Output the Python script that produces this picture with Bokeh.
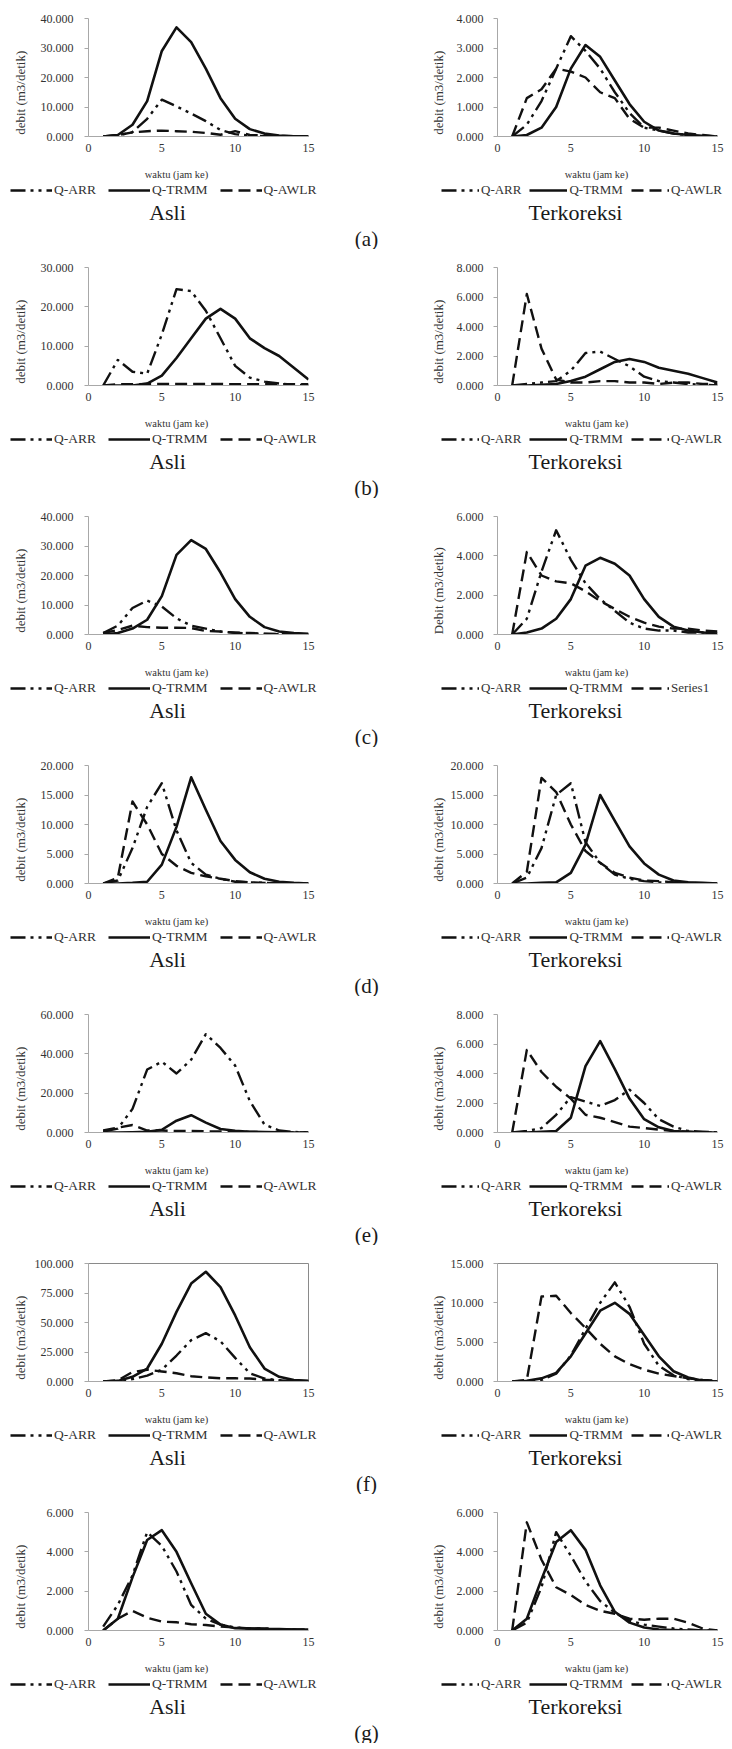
import math
from bokeh.plotting import figure
from bokeh.models import (Range1d, FixedTicker, PrintfTickFormatter, Legend, LegendItem,
                          Label)
from bokeh.layouts import column, row
from bokeh.embed import file_html
from bokeh.resources import INLINE

# ---------------- data ----------------
hours = list(range(1, 16))
x_ticks = [0, 5, 10, 15]
series_names = ["Q-ARR", "Q-TRMM", "Q-AWLR"]
row_tags = ["(a)", "(b)", "(c)", "(d)", "(e)", "(f)", "(g)"]
panel_titles = ["Asli", "Terkoreksi"]
x_title = "waktu (jam ke)"
y_title = "debit (m3/detik)"
y_title_c = "Debit (m3/detik)"
awlr_name_c = "Series1"

a_asli_yticks = [0, 10, 20, 30, 40]
a_asli_arr  = [0, 0.3, 1.5, 6.0, 12.5, 10.2, 7.8, 5.2, 2.2, 0.8, 0.3, 0.1, 0.05, 0, 0]
a_asli_trmm = [0, 0.5, 4.0, 12.0, 29.0, 37.0, 32.0, 23.0, 13.0, 6.0, 2.5, 1.0, 0.3, 0.1, 0]
a_asli_awlr = [0, 0.5, 1.4, 1.8, 2.0, 1.8, 1.6, 1.2, 0.6, 1.8, 0.5, 0.4, 0.2, 0.1, 0.05]
a_kor_yticks = [0, 1, 2, 3, 4]
a_kor_arr   = [0, 0.4, 1.2, 2.3, 3.4, 2.9, 2.3, 1.5, 0.8, 0.3, 0.2, 0.1, 0.05, 0, 0]
a_kor_trmm  = [0, 0.05, 0.3, 1.0, 2.3, 3.1, 2.7, 1.9, 1.1, 0.5, 0.2, 0.1, 0.05, 0.02, 0]
a_kor_awlr  = [0, 1.3, 1.6, 2.3, 2.2, 2.0, 1.5, 1.3, 0.6, 0.3, 0.3, 0.2, 0.1, 0.05, 0]

b_asli_yticks = [0, 10, 20, 30]
b_asli_arr  = [0, 6.5, 3.5, 3.0, 13.0, 24.5, 24.0, 19.0, 12.0, 5.0, 2.0, 1.0, 0.5, 0.2, 0.1]
b_asli_trmm = [0, 0, 0, 0.5, 2.5, 7.0, 12.0, 17.0, 19.5, 17.0, 12.0, 9.5, 7.5, 4.5, 1.5]
b_asli_awlr = [0, 0.3, 0.3, 0.4, 0.4, 0.4, 0.4, 0.4, 0.4, 0.3, 0.3, 0.3, 0.3, 0.3, 0.3]
b_kor_yticks = [0, 2, 4, 6, 8]
b_kor_arr   = [0, 0.1, 0.2, 0.3, 1.0, 2.2, 2.3, 1.8, 1.3, 0.6, 0.3, 0.2, 0.1, 0.05, 0]
b_kor_trmm  = [0, 0, 0.05, 0.1, 0.3, 0.6, 1.1, 1.6, 1.8, 1.6, 1.2, 1.0, 0.8, 0.5, 0.2]
b_kor_awlr  = [0, 6.2, 2.5, 0.4, 0.2, 0.2, 0.3, 0.3, 0.2, 0.2, 0.1, 0.2, 0.2, 0.1, 0.1]

c_asli_yticks = [0, 10, 20, 30, 40]
c_asli_arr  = [0.5, 3.0, 9.0, 11.5, 9.5, 5.5, 3.0, 2.0, 1.0, 0.6, 0.3, 0.2, 0.1, 0.1, 0]
c_asli_trmm = [0, 0.5, 2.0, 5.0, 13.0, 27.0, 32.0, 29.0, 21.0, 12.0, 6.0, 2.5, 1.0, 0.5, 0.2]
c_asli_awlr = [0.5, 1.5, 3.0, 2.5, 2.3, 2.3, 2.2, 1.2, 1.0, 0.6, 0.5, 0.3, 0.2, 0.1, 0.1]
c_kor_yticks = [0, 2, 4, 6]
c_kor_arr   = [0, 0.8, 3.2, 5.3, 3.8, 2.6, 1.8, 1.2, 0.6, 0.3, 0.2, 0.2, 0.1, 0.1, 0.05]
c_kor_trmm  = [0, 0.1, 0.3, 0.8, 1.8, 3.5, 3.9, 3.6, 3.0, 1.8, 0.9, 0.4, 0.2, 0.1, 0.05]
c_kor_awlr  = [0, 4.2, 3.0, 2.7, 2.6, 2.2, 1.7, 1.3, 0.9, 0.6, 0.4, 0.3, 0.3, 0.2, 0.15]

d_asli_yticks = [0, 5, 10, 15, 20]
d_asli_arr  = [0, 0.5, 6.0, 13.0, 17.0, 9.0, 3.5, 1.5, 0.8, 0.3, 0.2, 0.1, 0, 0, 0]
d_asli_trmm = [0, 0, 0.1, 0.3, 3.2, 9.6, 18.0, 12.5, 7.2, 4.0, 1.9, 0.8, 0.3, 0.1, 0]
d_asli_awlr = [0, 1.0, 13.9, 10.0, 5.0, 3.0, 1.8, 1.2, 0.8, 0.4, 0.2, 0.1, 0.05, 0, 0]
d_kor_yticks = [0, 5, 10, 15, 20]
d_kor_arr   = [0, 1.0, 6.0, 15.0, 17.0, 7.0, 3.5, 1.5, 0.8, 0.4, 0.2, 0.1, 0, 0, 0]
d_kor_trmm  = [0, 0, 0.1, 0.2, 1.8, 6.6, 15.0, 10.6, 6.3, 3.4, 1.5, 0.5, 0.2, 0.1, 0]
d_kor_awlr  = [0, 2.0, 17.9, 15.5, 10.0, 5.5, 3.5, 1.8, 1.0, 0.5, 0.4, 0.2, 0.1, 0, 0]

e_asli_yticks = [0, 20, 40, 60]
e_asli_arr  = [0.5, 2.0, 12.0, 32.0, 36.0, 30.0, 37.0, 50.0, 43.0, 34.0, 16.0, 4.0, 1.0, 0.3, 0]
e_asli_trmm = [0, 0, 0.1, 0.3, 1.4, 6.0, 8.8, 5.0, 1.8, 0.9, 0.4, 0.2, 0.1, 0, 0]
e_asli_awlr = [1.0, 2.5, 3.8, 1.0, 1.0, 0.8, 0.8, 0.6, 0.5, 0.5, 0.3, 0.2, 0.1, 0, 0]
e_kor_yticks = [0, 2, 4, 6, 8]
e_kor_arr   = [0, 0.1, 0.3, 1.2, 2.4, 2.1, 1.8, 2.2, 2.9, 2.0, 0.9, 0.4, 0.1, 0.05, 0]
e_kor_trmm  = [0, 0, 0.05, 0.1, 1.0, 4.5, 6.2, 4.3, 2.3, 0.9, 0.35, 0.1, 0.05, 0, 0]
e_kor_awlr  = [0, 5.6, 4.1, 3.1, 2.3, 1.2, 1.0, 0.7, 0.4, 0.3, 0.2, 0.1, 0.05, 0, 0]

f_asli_yticks = [0, 25, 50, 75, 100]
f_asli_arr  = [0, 0.5, 2.0, 5.0, 10.0, 22.0, 35.0, 41.0, 34.0, 20.0, 7.0, 2.5, 1.0, 0.5, 0.2]
f_asli_trmm = [0, 0.5, 4.0, 11.0, 32.0, 59.0, 83.0, 93.0, 80.0, 56.0, 29.0, 11.0, 4.0, 1.3, 0.5]
f_asli_awlr = [0, 1.0, 8.0, 10.0, 8.5, 7.0, 4.5, 3.5, 2.7, 2.7, 2.5, 1.5, 1.0, 0.5, 0.3]
f_kor_yticks = [0, 5, 10, 15]
f_kor_arr   = [0, 0, 0.2, 1.0, 3.3, 6.7, 10.0, 12.6, 9.5, 4.8, 2.0, 0.8, 0.3, 0.1, 0]
f_kor_trmm  = [0, 0.1, 0.4, 1.1, 3.2, 6.1, 9.0, 10.0, 8.6, 5.9, 3.2, 1.3, 0.5, 0.1, 0]
f_kor_awlr  = [0, 0.2, 10.8, 10.9, 8.7, 6.8, 4.8, 3.2, 2.2, 1.5, 1.0, 0.7, 0.4, 0.2, 0.1]

g_asli_yticks = [0, 2, 4, 6]
g_asli_arr  = [0.2, 1.3, 2.8, 5.0, 4.3, 3.0, 1.3, 0.6, 0.3, 0.15, 0.1, 0.1, 0.05, 0.05, 0]
g_asli_trmm = [0, 0.6, 2.7, 4.6, 5.1, 4.0, 2.4, 0.85, 0.3, 0.12, 0.1, 0.08, 0.08, 0.05, 0.05]
g_asli_awlr = [0, 0.6, 1.0, 0.65, 0.45, 0.42, 0.32, 0.28, 0.2, 0.15, 0.1, 0.1, 0.05, 0.05, 0.05]
g_kor_yticks = [0, 2, 4, 6]
g_kor_arr   = [0, 0.4, 2.2, 5.0, 3.8, 2.5, 1.5, 0.9, 0.5, 0.3, 0.2, 0.1, 0.05, 0, 0]
g_kor_trmm  = [0, 0.6, 2.6, 4.5, 5.1, 4.1, 2.3, 0.95, 0.4, 0.15, 0.05, 0.02, 0, 0, 0]
g_kor_awlr  = [0, 5.5, 3.6, 2.2, 1.8, 1.3, 1.0, 0.85, 0.6, 0.55, 0.6, 0.6, 0.4, 0.1, 0]

# ---------------- styling ----------------
SERIF = "Liberation Serif"
INK = "#111111"
TXT = "#333333"
AXIS = "#a8a8a8"
PLOT_H = 162       # 18 top + 118 frame + 26 bottom
BELOW_H = 62
CAP_H = 25
ARR_DASH = "15 5 3 5 3 5"
AWLR_DASH = "12 6"
NAN = [float("nan")]

GEOM = {
    0: dict(strip=30, bl=58, br=58, ytx=20, leg_x=10, xt_x=176, cap_x=167,
            glyph=42, spacing=12, lfs="13.5px"),
    1: dict(strip=80, bl=51, br=15, ytx=72, leg_x=75, xt_x=230, cap_x=209,
            glyph=38, spacing=8, lfs="13px"),
}


def blank(w, h):
    f = figure(width=w, height=h, output_backend="svg", toolbar_location=None,
               title=None, x_range=Range1d(0, w), y_range=Range1d(0, h),
               min_border=0, x_axis_type=None, y_axis_type=None)
    f.outline_line_color = None
    return f


def make_panel(side, yticks, arr, trmm, awlr, ytitle, awlr_name, boxed):
    g = GEOM[side]
    strip = blank(g["strip"], PLOT_H)
    strip.add_layout(Label(x=g["ytx"], y=PLOT_H - 102, angle=math.pi / 2, text=ytitle,
                           text_align="center", text_baseline="middle",
                           text_font=SERIF, text_font_size="13px", text_color=TXT))

    pw = g["bl"] + 220 + g["br"]
    p = figure(width=pw, height=PLOT_H, output_backend="svg", toolbar_location=None,
               title=None, x_range=Range1d(0, 15), y_range=Range1d(0, yticks[-1]),
               min_border_left=g["bl"], min_border_right=g["br"],
               min_border_top=18, min_border_bottom=26)
    p.grid.visible = False
    p.outline_line_color = "#8a8a8a" if boxed else None

    ax = p.xaxis[0]
    ax.ticker = FixedTicker(ticks=x_ticks)
    ax.major_tick_out = 0
    ax.major_tick_in = 0
    ax.minor_tick_line_color = None
    ax.axis_line_color = AXIS
    ax.major_label_standoff = 7
    ax.major_label_text_font = SERIF
    ax.major_label_text_font_size = "12px"
    ax.major_label_text_color = TXT

    ay = p.yaxis[0]
    ay.ticker = FixedTicker(ticks=yticks)
    ay.formatter = PrintfTickFormatter(format="%.3f")
    ay.major_tick_out = 4
    ay.major_tick_in = 0
    ay.minor_tick_line_color = None
    ay.major_tick_line_color = AXIS
    ay.axis_line_color = AXIS
    ay.major_label_standoff = 11 if side == 0 else 10
    ay.major_label_text_font = SERIF
    ay.major_label_text_font_size = "12px"
    ay.major_label_text_color = TXT

    p.line(hours, trmm, line_color=INK, line_width=2.6, line_join="round")
    p.line(hours, arr, line_color=INK, line_width=2.4, line_join="round", line_dash=ARR_DASH)
    p.line(hours, awlr, line_color=INK, line_width=2.4, line_join="round", line_dash=AWLR_DASH)

    # below: axis title, legend (style samples only), panel caption
    b = blank(366, BELOW_H)
    k_a = b.line(NAN, NAN, line_color=INK, line_width=2.4, line_dash=ARR_DASH)
    k_t = b.line(NAN, NAN, line_color=INK, line_width=2.6)
    k_w = b.line(NAN, NAN, line_color=INK, line_width=2.4, line_dash=AWLR_DASH)
    leg = Legend(items=[LegendItem(label=series_names[0], renderers=[k_a], index=0),
                        LegendItem(label=series_names[1], renderers=[k_t], index=0),
                        LegendItem(label=awlr_name, renderers=[k_w], index=0)],
                 orientation="horizontal", location=(g["leg_x"], 26),
                 margin=0, padding=0, spacing=g["spacing"],
                 glyph_width=g["glyph"], glyph_height=12,
                 label_height=12, label_standoff=2,
                 label_text_font=SERIF, label_text_font_size=g["lfs"],
                 label_text_color=TXT,
                 border_line_color=None, background_fill_alpha=0)
    b.add_layout(leg)
    b.add_layout(Label(x=g["xt_x"], y=BELOW_H - 12, text=x_title, text_align="center",
                       text_baseline="middle", text_font=SERIF, text_font_size="10.5px",
                       text_color=TXT))
    b.add_layout(Label(x=g["cap_x"], y=12, text=panel_titles[side], text_align="center",
                       text_baseline="middle", text_font=SERIF,
                       text_font_size="22px", text_color="#1a1a1a"))

    return column(row(strip, p), b)


def make_caption(tag):
    c = blank(732, CAP_H)
    c.add_layout(Label(x=366, y=CAP_H - 14, text=tag, text_align="center",
                       text_baseline="middle", text_font=SERIF,
                       text_font_size="21px", text_color="#1a1a1a"))
    return c


panels = [
    ((a_asli_yticks, a_asli_arr, a_asli_trmm, a_asli_awlr),
     (a_kor_yticks, a_kor_arr, a_kor_trmm, a_kor_awlr)),
    ((b_asli_yticks, b_asli_arr, b_asli_trmm, b_asli_awlr),
     (b_kor_yticks, b_kor_arr, b_kor_trmm, b_kor_awlr)),
    ((c_asli_yticks, c_asli_arr, c_asli_trmm, c_asli_awlr),
     (c_kor_yticks, c_kor_arr, c_kor_trmm, c_kor_awlr)),
    ((d_asli_yticks, d_asli_arr, d_asli_trmm, d_asli_awlr),
     (d_kor_yticks, d_kor_arr, d_kor_trmm, d_kor_awlr)),
    ((e_asli_yticks, e_asli_arr, e_asli_trmm, e_asli_awlr),
     (e_kor_yticks, e_kor_arr, e_kor_trmm, e_kor_awlr)),
    ((f_asli_yticks, f_asli_arr, f_asli_trmm, f_asli_awlr),
     (f_kor_yticks, f_kor_arr, f_kor_trmm, f_kor_awlr)),
    ((g_asli_yticks, g_asli_arr, g_asli_trmm, g_asli_awlr),
     (g_kor_yticks, g_kor_arr, g_kor_trmm, g_kor_awlr)),
]

children = []
for i, (lspec, rspec) in enumerate(panels):
    boxed = i == 5
    pl = make_panel(0, *lspec, ytitle=y_title, awlr_name=series_names[2], boxed=boxed)
    rt = y_title_c if i == 2 else y_title
    an = awlr_name_c if i == 2 else series_names[2]
    pr = make_panel(1, *rspec, ytitle=rt, awlr_name=an, boxed=boxed)
    children.append(row(pl, pr))
    children.append(make_caption(row_tags[i]))

layout = column(*children)

open("out.html", "w").write(file_html(layout, INLINE))
